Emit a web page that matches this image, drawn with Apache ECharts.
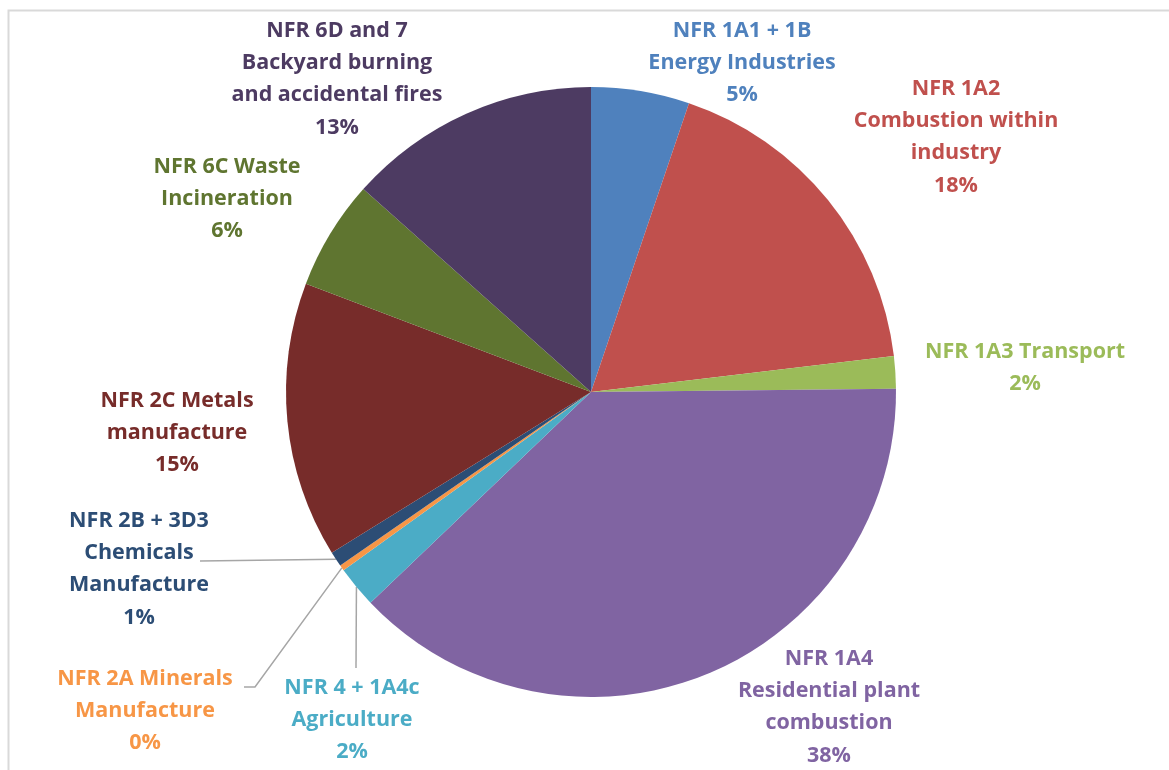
<!DOCTYPE html>
<html>
<head>
<meta charset="utf-8">
<script src="https://cdn.jsdelivr.net/npm/echarts@6/dist/echarts.min.js"></script>
<style>html,body{margin:0;padding:0;background:#fff}#c{width:1169px;height:770px}</style>
</head>
<body>
<div id="c"></div>
<script>
const categories = [
  'NFR 1A1 + 1B\nEnergy Industries',
  'NFR 1A2\nCombustion within\nindustry',
  'NFR 1A3 Transport',
  'NFR 1A4\nResidential plant\ncombustion',
  'NFR 4 + 1A4c\nAgriculture',
  'NFR 2A Minerals\nManufacture',
  'NFR 2B + 3D3\nChemicals\nManufacture',
  'NFR 2C Metals\nmanufacture',
  'NFR 6C Waste\nIncineration',
  'NFR 6D and 7\nBackyard burning\nand accidental fires'
];
const values = [5.2, 17.9, 1.7, 38.0, 2.2, 0.3, 0.8, 14.6, 5.8, 13.4];
const colors = ['#4F81BD', '#C0504D', '#9BBB59', '#8064A2', '#4BACC6', '#F79646', '#2C4D75', '#772C2A', '#5F7530', '#4D3B62'];
// label block centres (layout only)
const labelPos = [
  [742, 63], [956, 137], [1025, 368], [829, 707], [352, 720],
  [145, 711], [139, 569], [177, 433], [227, 199], [337, 79]
];
// label line end / elbow points for small slices (layout only)
const leaderLines = {
  4: [[356, 668]],
  5: [[255, 687], [244, 687]],
  6: [[200, 561]]
};

const chart = echarts.init(document.getElementById('c'));
chart.setOption({
  animation: false,
  graphic: [{
    type: 'rect', silent: true,
    shape: { x: 8.5, y: 10.5, width: 1300, height: 900 },
    style: { fill: 'none', stroke: '#d9d9d9', lineWidth: 2 }
  }],
  series: [{
    type: 'pie',
    center: [591, 392],
    radius: [0, 305],
    startAngle: 90,
    clockwise: true,
    avoidLabelOverlap: false,
    percentPrecision: 0,
    label: {
      show: true,
      position: 'outside',
      formatter: '{b}\n{d}%',
      fontFamily: '"Open Sans", "Noto Sans", sans-serif',
      fontWeight: 'bold',
      fontSize: 21.5,
      lineHeight: 32.3,
      align: 'center'
    },
    labelLine: { show: true, lineStyle: { color: '#a6a6a6', width: 1.5 } },
    labelLayout: function (p) {
      const i = p.dataIndex;
      const res = { x: labelPos[i][0], y: labelPos[i][1], align: 'center', verticalAlign: 'middle' };
      if (leaderLines[i] && p.labelLinePoints) {
        res.labelLinePoints = [p.labelLinePoints[0]].concat(leaderLines[i]);
      }
      return res;
    },
    data: categories.map((n, i) => ({
      name: n,
      value: values[i],
      itemStyle: { color: colors[i] },
      label: { color: colors[i] },
      labelLine: { show: !!leaderLines[i] }
    }))
  }]
});
</script>
</body>
</html>
